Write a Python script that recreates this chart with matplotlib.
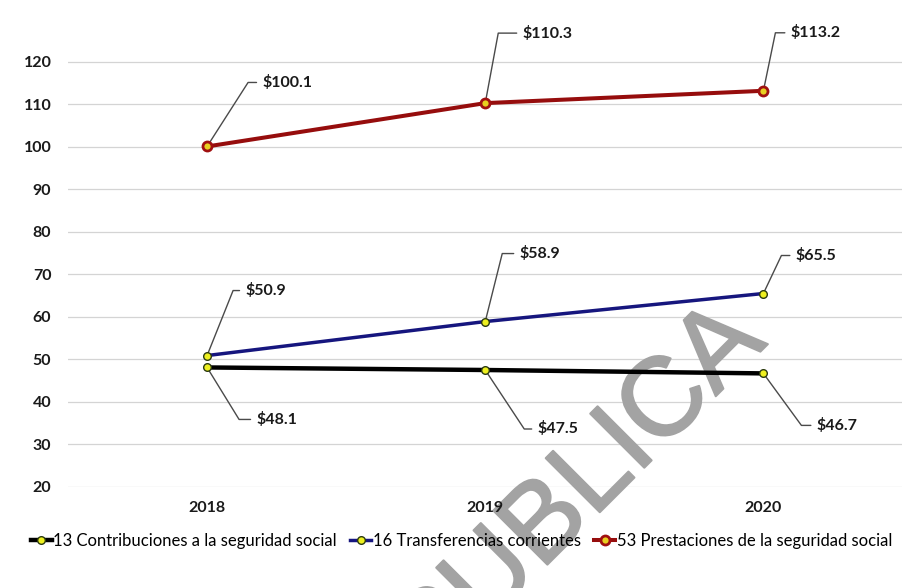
import numpy as np
import matplotlib.pyplot as plt
import matplotlib.patheffects as pe

plt.rcParams['font.family'] = ['Lato', 'DejaVu Sans']

years = ["2018", "2019", "2020"]
contribuciones = [48.1, 47.5, 46.7]
transferencias = [50.9, 58.9, 65.5]
prestaciones = [100.1, 110.3, 113.2]
series_names = ["13 Contribuciones a la seguridad social",
                "16 Transferencias corrientes",
                "53 Prestaciones de la seguridad social"]
y_ticks = [20, 30, 40, 50, 60, 70, 80, 90, 100, 110, 120]

# leader offsets in pixels: (corner dx, corner dy, text dx)
off_contrib = [(32, -52, 49), (39, -59, 52), (38, -52, 53)]
off_transf = [(26, 65, 38), (17, 68, 34), (18, 38, 32)]
off_prest = [(41, 64, 55), (13, 70, 37), (12, 58, 27)]

fig = plt.figure(figsize=(9.14, 5.88), dpi=100)
ax = fig.add_axes([0.0744, 0.172, 0.913, 0.795])
ax.set_facecolor('none')

x = np.arange(len(years))

h1, = ax.plot(x, contribuciones, color='black', lw=3.2, marker='o', ms=5.5,
              mfc='#eef020', mec='#2b3a10', mew=1.0, zorder=4)
h2, = ax.plot(x, transferencias, color='#16167e', lw=2.5, marker='o', ms=5.5,
              mfc='#eef020', mec='#2b3a10', mew=1.0, zorder=4)
h3, = ax.plot(x, prestaciones, color='#960d0d', lw=2.9, marker='o', ms=6.5,
              mfc='#e8d020', mec='#a01010', mew=2.0, zorder=4)


def label(vals, offs):
    for i, (v, (cx, cy, tx)) in enumerate(zip(vals, offs)):
        ang = np.degrees(np.arctan2(cy, cx))
        ax.annotate(f"${v:.1f}", xy=(i, v), xytext=(tx, cy),
                    textcoords='offset pixels', ha='left', va='center',
                    fontsize=11.5, fontweight='bold', color='#1a1a1a',
                    arrowprops=dict(arrowstyle='-', color='#4a4a4a', lw=1.0,
                                    relpos=(0, 0.5), shrinkB=2,
                                    connectionstyle=f"angle,angleA=0,angleB={ang},rad=0"),
                    zorder=3)


label(contribuciones, off_contrib)
label(transferencias, off_transf)
label(prestaciones, off_prest)

ax.set_xlim(-0.5, 2.5)
ax.set_ylim(20, 130)
ax.set_yticks(y_ticks)
ax.set_xticks(x)
ax.set_xticklabels(years)
ax.set_axisbelow(False)
for yv in y_ticks:
    ax.axhline(yv, color='#d4d4d4', lw=0.9, zorder=1)
for s in ax.spines.values():
    s.set_visible(False)
ax.tick_params(length=0, labelsize=11.5, colors='#1a1a1a')
ax.tick_params(axis='y', pad=12)
ax.tick_params(axis='x', pad=10)
for t in ax.get_xticklabels() + ax.get_yticklabels():
    t.set_fontweight('bold')

fig.legend([h1, h2, h3], series_names, loc='center', bbox_to_anchor=(0.505, 1 - 541 / 588),
           ncol=3, frameon=False, fontsize=12, handlelength=1.25,
           handletextpad=0.1, columnspacing=0.8)

# scanned watermark
ax.text(600 / 914, 1 - 512 / 588, "PUBLICA", transform=fig.transFigure,
        rotation=45, rotation_mode='anchor', ha='center', va='baseline',
        fontsize=80, color='#a3a3a3', family='Liberation Sans',
        clip_on=False, zorder=2,
        path_effects=[pe.withStroke(linewidth=1.5, foreground='#a3a3a3')])

fig.savefig('out.png', dpi=100)
